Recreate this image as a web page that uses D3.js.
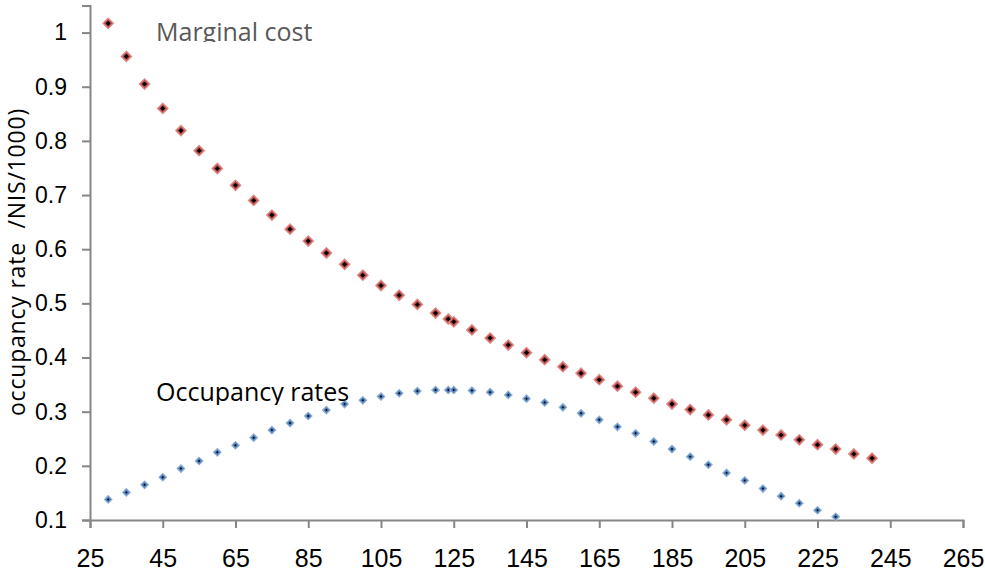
<!DOCTYPE html>
<html>
<head>
<meta charset="utf-8">
<script src="https://cdn.jsdelivr.net/npm/d3@7"></script>
<style>
  body { margin: 0; background: #fff; }
  svg { display: block; }
</style>
</head>
<body>
<svg id="chart"></svg>
<script>
// Quantity (x) for each series
const costX = [30, 35, 40, 45, 50, 55, 60, 65, 70, 75, 80, 85, 90, 95, 100, 105, 110, 115, 120, 123.5, 125,
  130, 135, 140, 145, 150, 155, 160, 165, 170, 175, 180, 185, 190, 195, 200, 205, 210, 215, 220, 225, 230, 235, 240];
const costY = [1.017, 0.956, 0.905, 0.860, 0.819, 0.782, 0.749, 0.718, 0.690, 0.663, 0.637, 0.615, 0.593, 0.572,
  0.552, 0.533, 0.515, 0.498, 0.482, 0.471, 0.466, 0.451, 0.436, 0.423, 0.409, 0.396, 0.383, 0.371, 0.359,
  0.347, 0.336, 0.325, 0.314, 0.304, 0.294, 0.285, 0.275, 0.266, 0.257, 0.248, 0.239, 0.231, 0.222, 0.214];

const occX = [30, 35, 40, 45, 50, 55, 60, 65, 70, 75, 80, 85, 90, 95, 100, 105, 110, 115, 120, 123.5, 125,
  130, 135, 140, 145, 150, 155, 160, 165, 170, 175, 180, 185, 190, 195, 200, 205, 210, 215, 220, 225, 230];
const occY = [0.138, 0.151, 0.165, 0.179, 0.195, 0.209, 0.225, 0.238, 0.252, 0.266, 0.279, 0.292, 0.303, 0.314,
  0.321, 0.328, 0.334, 0.338, 0.340, 0.340, 0.340, 0.339, 0.336, 0.331, 0.324, 0.317, 0.308, 0.297, 0.285,
  0.272, 0.260, 0.245, 0.231, 0.217, 0.202, 0.187, 0.173, 0.158, 0.144, 0.131, 0.118, 0.106];

const xTicks = [25, 45, 65, 85, 105, 125, 145, 165, 185, 205, 225, 245, 265];
const yTicks = [0.1, 0.2, 0.3, 0.4, 0.5, 0.6, 0.7, 0.8, 0.9, 1];

const W = 985, H = 573;
const margin = { top: 5.5, right: 22, bottom: 53, left: 90 };

const svg = d3.select("#chart").attr("width", W).attr("height", H);

const x = d3.scaleLinear().domain([25, 265]).range([margin.left, W - margin.right]);
const y = d3.scaleLinear().domain([0.1, 1.05]).range([H - margin.bottom, margin.top]);

const axisColor = "#868686";

// x axis
const gx = svg.append("g")
  .attr("transform", `translate(0,${y(0.1)})`)
  .call(d3.axisBottom(x).tickValues(xTicks).tickSize(8).tickPadding(21).tickFormat(d3.format("d")));
gx.select(".domain").attr("stroke", axisColor).attr("stroke-width", 2);
gx.selectAll(".tick line").attr("stroke", axisColor).attr("stroke-width", 2);
gx.selectAll("text")
  .attr("fill", "#000")
  .style("font-family", "'Liberation Sans', Arial, sans-serif")
  .style("font-size", "25px");

// y axis
const gy = svg.append("g")
  .attr("transform", `translate(${x(25)},0)`)
  .call(d3.axisLeft(y).tickValues(yTicks).tickSize(8).tickPadding(15).tickFormat(d => d3.format("")(d)));
gy.select(".domain").attr("stroke", axisColor).attr("stroke-width", 2);
gy.selectAll(".tick line").attr("stroke", axisColor).attr("stroke-width", 2);
gy.selectAll("text")
  .attr("fill", "#000")
  .style("font-family", "'Liberation Sans', Arial, sans-serif")
  .style("font-size", "23px");

// y axis title
svg.append("text")
  .attr("transform", `translate(25,262) rotate(-90)`)
  .attr("text-anchor", "middle")
  .style("font-family", "'Open Sans', sans-serif")
  .style("font-size", "23px")
  .style("letter-spacing", "0.8px")
  .style("white-space", "pre")
  .attr("fill", "#000")
  .text("occupancy rate  /NIS/1000)");

const diamond = d3.symbol().type(d3.symbolSquare);

// occupancy series (blue)
const occ = occX.map((v, i) => ({ x: v, y: occY[i] }));
const gOcc = svg.append("g");
gOcc.selectAll("path.outer").data(occ).join("path")
  .attr("class", "outer")
  .attr("d", diamond.size(30)())
  .attr("transform", d => `translate(${x(d.x)},${y(d.y)}) rotate(45)`)
  .attr("fill", "#4f81bd")
  .attr("stroke", "#95b3d7")
  .attr("stroke-width", 1);
gOcc.selectAll("path.inner").data(occ).join("path")
  .attr("class", "inner")
  .attr("d", diamond.size(3)())
  .attr("transform", d => `translate(${x(d.x)},${y(d.y)}) rotate(45)`)
  .attr("fill", "#000");

// marginal cost series (red)
const cost = costX.map((v, i) => ({ x: v, y: costY[i] }));
const gCost = svg.append("g");
gCost.selectAll("path.outer").data(cost).join("path")
  .attr("class", "outer")
  .attr("d", diamond.size(56)())
  .attr("transform", d => `translate(${x(d.x)},${y(d.y)}) rotate(45)`)
  .attr("fill", "#c0504d")
  .attr("stroke", "#e08e8b")
  .attr("stroke-width", 1.2);
gCost.selectAll("path.inner").data(cost).join("path")
  .attr("class", "inner")
  .attr("d", diamond.size(13)())
  .attr("transform", d => `translate(${x(d.x)},${y(d.y)}) rotate(45)`)
  .attr("fill", "#000");

// series labels (clipped at the bottom like the original text boxes)
const defs = svg.append("defs");
defs.append("clipPath").attr("id", "clipCost")
  .append("rect").attr("x", 140).attr("y", 0).attr("width", 220).attr("height", 42);
defs.append("clipPath").attr("id", "clipOcc")
  .append("rect").attr("x", 140).attr("y", 370).attr("width", 240).attr("height", 35);

svg.append("text")
  .attr("clip-path", "url(#clipCost)")
  .attr("x", 156).attr("y", 41)
  .style("font-family", "'Open Sans', sans-serif")
  .style("font-size", "25px")
  .attr("fill", "#595959")
  .text("Marginal cost");

svg.append("text")
  .attr("clip-path", "url(#clipOcc)")
  .attr("x", 156).attr("y", 401)
  .style("font-family", "'Open Sans', sans-serif")
  .style("font-size", "25px")
  .attr("fill", "#000")
  .text("Occupancy rates");
</script>
</body>
</html>
